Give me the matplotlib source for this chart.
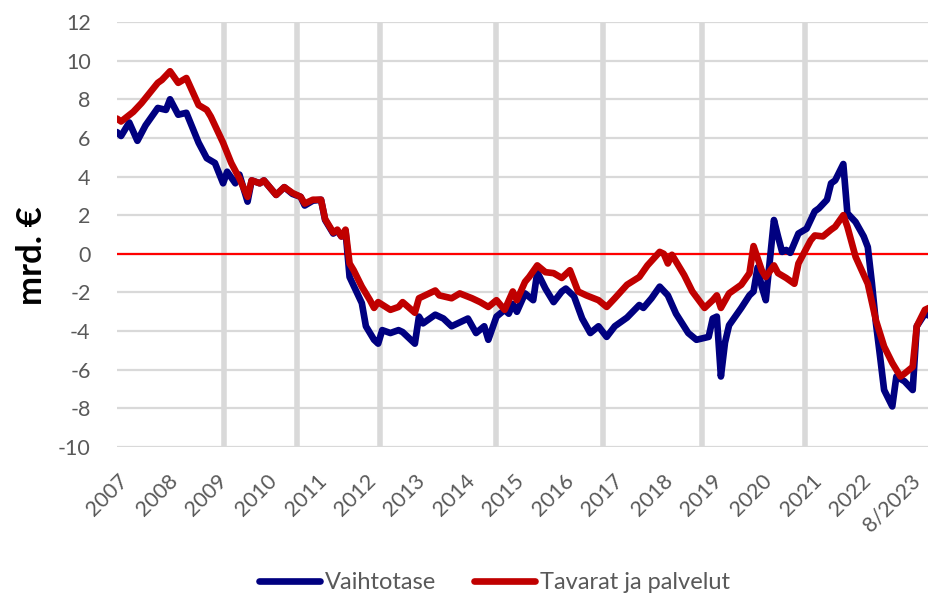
import numpy as np
import matplotlib
matplotlib.use("Agg")
import matplotlib.pyplot as plt

# values, months counted from 1/2007
blue_months = [0, 1, 3, 5, 7, 10, 12, 13, 15, 17, 20, 22, 24, 26, 27, 29, 30, 32,
               33, 35, 36, 39, 41, 43, 45, 46, 48, 50, 51, 53, 54, 55, 56, 57, 60,
               61, 63, 64, 65, 67, 69, 70, 73, 74, 75, 78, 80, 82, 86, 88, 90, 91,
               93, 95, 96, 97, 98, 100, 102, 103, 105, 107, 109, 110, 112, 114,
               116, 118, 120, 122, 125, 128, 129, 131, 133, 135, 137, 140, 142,
               145, 146, 147, 148, 149, 150, 153, 155, 156, 157, 158, 159, 161,
               162, 163, 164, 165, 167, 169, 171, 172, 174, 175, 176, 178, 179,
               181, 183, 184, 185, 186, 187, 188, 190, 191, 193, 195, 196, 198, 199]
blue_vals = [6.3, 6.1, 6.8, 5.85, 6.65, 7.55, 7.45, 8.0, 7.2, 7.3, 5.75, 4.95,
             4.7, 3.65, 4.25, 3.65, 4.1, 2.7, 3.8, 3.65, 3.8, 3.05, 3.45, 3.1,
             2.95, 2.5, 2.75, 2.8, 1.75, 1.05, 1.2, 0.9, 1.2, -1.2, -2.55, -3.75,
             -4.45, -4.65, -3.95, -4.1, -3.95, -4.05, -4.65, -3.25, -3.6, -3.15,
             -3.35, -3.75, -3.35, -4.1, -3.75, -4.45, -3.25, -2.9, -3.1, -2.6,
             -3.0, -2.05, -2.4, -0.95, -1.8, -2.5, -1.95, -1.8, -2.2, -3.35,
             -4.1, -3.75, -4.3, -3.75, -3.3, -2.65, -2.8, -2.3, -1.7, -2.15,
             -3.1, -4.1, -4.45, -4.3, -3.35, -3.25, -6.35, -4.6, -3.7, -2.8,
             -2.15, -1.95, -0.7, -1.7, -2.4, 1.75, 0.9, 0.1, 0.2, 0.05, 1.05,
             1.3, 2.2, 2.35, 2.8, 3.65, 3.8, 4.65, 2.1, 1.65, 0.9, 0.35, -1.5,
             -3.6, -5.3, -7.05, -7.9, -6.35, -6.6, -7.05, -3.75, -3.1, -3.2]

red_months = [0, 1, 4, 6, 10, 11, 13, 15, 17, 20, 22, 23, 26, 28, 30, 32, 33, 35,
              36, 39, 41, 43, 45, 46, 48, 50, 51, 53, 54, 55, 56, 57, 58, 60, 62,
              63, 64, 67, 69, 70, 73, 74, 78, 79, 82, 84, 87, 89, 91, 93, 95, 97,
              98, 100, 101, 103, 105, 107, 109, 111, 113, 115, 118, 120, 122, 125,
              128, 130, 133, 134, 135, 136, 139, 141, 144, 146, 147, 148, 150, 153,
              155, 156, 158, 159, 161, 162, 164, 166, 167, 170, 171, 173, 175, 176,
              178, 179, 181, 184, 186, 188, 190, 192, 193, 195, 196, 198, 199]
red_vals = [7.0, 6.85, 7.35, 7.8, 8.85, 9.0, 9.45, 8.85, 9.1, 7.7, 7.45, 7.1,
            5.75, 4.7, 3.9, 2.95, 3.8, 3.65, 3.8, 3.05, 3.45, 3.15, 2.95, 2.6,
            2.8, 2.8, 1.8, 1.1, 1.25, 0.9, 1.25, -0.5, -0.85, -1.7, -2.4, -2.8,
            -2.5, -2.9, -2.75, -2.5, -3.05, -2.3, -1.9, -2.15, -2.3, -2.05, -2.3,
            -2.5, -2.75, -2.4, -2.9, -1.95, -2.4, -1.45, -1.2, -0.6, -0.95, -1.0,
            -1.25, -0.85, -1.95, -2.15, -2.4, -2.75, -2.3, -1.6, -1.2, -0.6, 0.1,
            0.0, -0.5, -0.05, -1.1, -1.95, -2.8, -2.4, -2.15, -2.8, -2.05, -1.6,
            -1.0, 0.4, -0.85, -1.2, -0.6, -1.0, -1.25, -1.55, -0.5, 0.7, 0.95,
            0.9, 1.25, 1.4, 2.0, 1.4, -0.15, -1.55, -3.45, -4.8, -5.65, -6.35,
            -6.2, -5.85, -3.75, -2.9, -2.8]

tick_labels = [str(y) for y in range(2007, 2023)] + ["8/2023"]
vlines_at = [26.2, 44.2, 64.5, 92.8, 119.2, 143.3, 168.5]

plt.rcParams['font.family'] = ['Lato', 'DejaVu Sans']
plt.rcParams['axes.unicode_minus'] = False

fig = plt.figure(figsize=(9.29, 5.96), dpi=100)
ax = fig.add_axes([117 / 929, 1 - 447 / 596, 812 / 929, 425 / 596])

grid_col = '#d9d9d9'
for v in np.arange(-10, 13, 2):
    ax.axhline(v, color=grid_col, lw=1.6, zorder=0)
for v in vlines_at:
    ax.axvline(v, color=grid_col, lw=4, zorder=0)
ax.axhline(0, color='#ff0000', lw=1.6, zorder=1)

ax.plot(blue_months, blue_vals, color='#000080', lw=4.8, label='Vaihtotase',
        solid_joinstyle='round', solid_capstyle='round', zorder=2)
ax.plot(red_months, red_vals, color='#c00000', lw=4.8, label='Tavarat ja palvelut',
        solid_joinstyle='round', solid_capstyle='round', zorder=3)

ax.set_xlim(0, 199)
ax.set_ylim(-10, 12)
ax.set_yticks(np.arange(-10, 13, 2))
ax.set_xticks(np.linspace(0.3, 194.4, len(tick_labels)))
ax.set_xticklabels(tick_labels, rotation=45, ha='right', rotation_mode='anchor')
ax.tick_params(axis='both', length=0, labelsize=15.5, labelcolor='#595959')
ax.tick_params(axis='x', pad=17)
ax.tick_params(axis='y', pad=19)
for s in ax.spines.values():
    s.set_visible(False)

ax.set_ylabel('mrd. €', fontsize=25, fontweight='bold')
ax.yaxis.set_label_coords(-0.085, 0.45)

fig.legend(loc='center', bbox_to_anchor=(0.532, 0.022), ncol=2, frameon=False,
           fontsize=17, labelcolor='#595959', handlelength=2.6,
           handletextpad=0.2, columnspacing=1.6)

fig.savefig('out.png', dpi=100)
